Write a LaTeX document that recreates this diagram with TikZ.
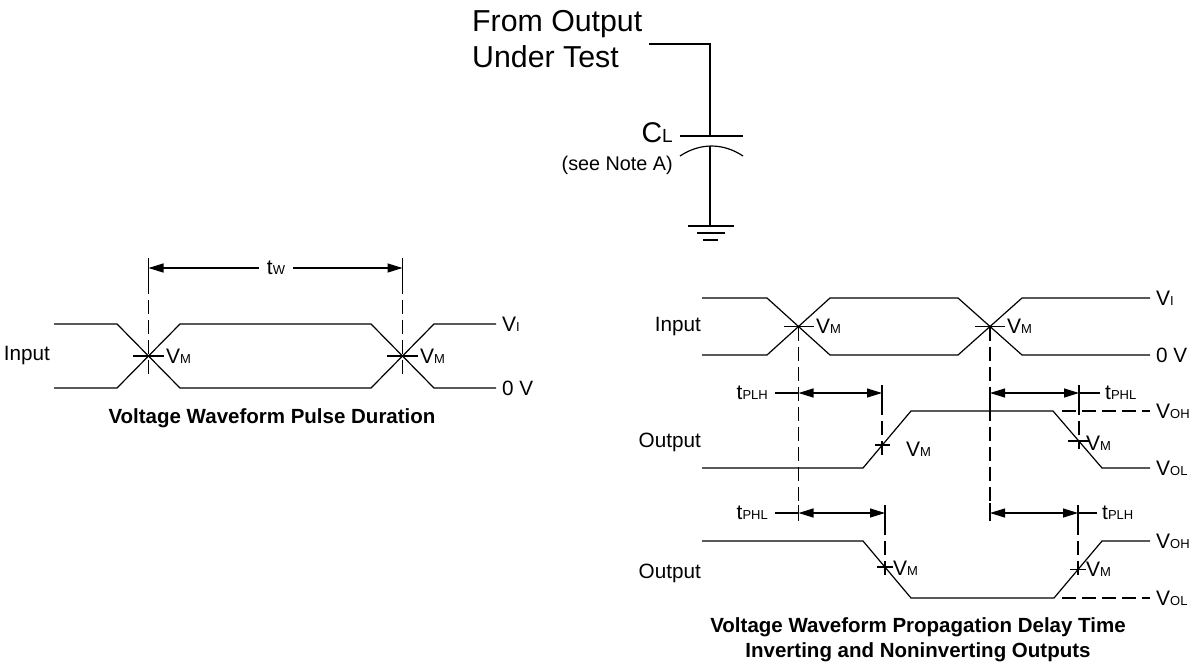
\documentclass[tikz,border=0pt]{standalone}
\usepackage{fontspec}
\setmainfont{Liberation Sans}
\usetikzlibrary{arrows.meta}
\newcommand\fs[1]{\fontsize{#1}{#1}\selectfont}
\newcommand\sbx[2]{#1{\fs{13}#2}}
\begin{document}
\begin{tikzpicture}[x=1pt,y=-1pt,
  wire/.style={line width=1.2pt},
  dsh/.style={line width=1.2pt,dash pattern=on 14pt off 6pt},
  dim/.style={line width=1.2pt,{Triangle[length=15pt,width=9pt]}-{Triangle[length=15pt,width=9pt]}},
  lab/.style={inner sep=0pt,font=\fs{20.7}},
  sub/.style={inner sep=0pt,font=\fs{21}},
  ttl/.style={inner sep=0pt,font=\fontsize{20.5}{25}\selectfont\bfseries,align=center}]
\useasboundingbox (0,0) rectangle (1196,667);
% ---------------- test circuit ----------------
\node[inner sep=0pt,anchor=base west,font=\fs{30.3}] (from) at (472,31) {From Output};
\node[inner sep=0pt,anchor=base west,font=\fs{30.3}] (under) at (472,67) {Under Test};
\coordinate (w0) at (649,44);
\coordinate (w1) at (710,44);
\coordinate (ptop) at (710,136);
\coordinate (pbot) at (710,146);
\coordinate (gnd) at (710,226);
\draw[wire] (w0) -- (w1) -- (ptop);
\draw[wire] (680,136) -- (743,136);
\draw[wire] (680,156) .. controls (700,142.7) and (723,142.7) .. (743,156);
\draw[wire] (pbot) -- (gnd);
\draw[wire] (688,226) -- (734,226);
\draw[wire] (697,233) -- (725,233);
\draw[wire] (703,240) -- (718,240);
\node[inner sep=0pt,anchor=base east] (cl) at (673,142) {\fs{28.5}C{\fs{19}L}};
\node[inner sep=0pt,anchor=east,font=\fs{19.8}] (note) at (673,165) {(see Note A)};
% ---------------- pulse duration ----------------
\draw[wire] (54,324) -- (117,324) -- (180,388) -- (371,388) -- (434,324) -- (496,324);
\draw[wire] (54,388) -- (117,388) -- (180,324) -- (371,324) -- (434,388) -- (496,388);
\draw[wire] (133,356) -- (164,356);
\draw[wire] (387,356) -- (418,356);
\draw[wire] (148.5,258) -- (148.5,280);
\draw[wire] (402.5,258) -- (402.5,280);
\draw[dsh] (148.5,280) -- (148.5,374);
\draw[dsh] (402.5,280) -- (402.5,374);
\coordinate (ta) at (148.5,268);
\coordinate (tb) at (402.5,268);
\draw[dim] (ta) -- (tb);
\node[sub,fill=white,inner xsep=8pt,inner ysep=2pt] (tw) at (276,268) {\sbx{t}{W}};
\node[sub,anchor=west] (vm1) at (166,356) {\sbx{V}{M}};
\node[sub,anchor=west] (vm2) at (420,356) {\sbx{V}{M}};
\node[sub,anchor=west] (vi1) at (502,324) {\sbx{V}{I}};
\node[lab,anchor=west] (ov1) at (502,388) {0 V};
\node[lab,anchor=east] (in1) at (50,356) {Input};
\node[ttl] (t1) at (272,418) {Voltage Waveform Pulse Duration};
% ---------------- propagation delay: input ----------------
\draw[wire] (702,298) -- (767,298) -- (830,355) -- (958,355) -- (1022,298) -- (1150,298);
\draw[wire] (702,355) -- (767,355) -- (830,298) -- (958,298) -- (1022,355) -- (1150,355);
\draw[wire] (784,326.5) -- (814,326.5);
\draw[wire] (975,326.5) -- (1005,326.5);
\node[sub,anchor=west] (vm3) at (816,326.5) {\sbx{V}{M}};
\node[sub,anchor=west] (vm4) at (1007,326.5) {\sbx{V}{M}};
\node[sub,anchor=west] (vi2) at (1156,298) {\sbx{V}{I}};
\node[lab,anchor=west] (ov2) at (1156,355) {0 V};
\node[lab,anchor=east] (in2) at (701,326.5) {Input};
\draw[dsh] (798.5,326.5) -- (798.5,520);
\draw[dsh] (990,326.5) -- (990,505);
% ---------------- output 1 (non-inverting) ----------------
\draw[wire] (702,468) -- (863,468) -- (911,411) -- (1053,411) -- (1102,468) -- (1150,468);
\draw[dsh] (1062,411) -- (1150,411);
\node[sub,anchor=west] (voh1) at (1156,411) {\sbx{V}{OH}};
\node[sub,anchor=west] (vol1) at (1156,468) {\sbx{V}{OL}};
\node[lab,anchor=east] (out1) at (701,442) {Output};
% tPLH
\draw[dim] (798.5,393) -- (882,393);
\draw[wire] (775,393) -- (798.5,393);
\node[sub,anchor=east] (tplh1) at (768,393) {\sbx{t}{PLH}};
\draw[wire] (882,385) -- (882,401);
\draw[dsh] (882,401) -- (882,456);
\draw[wire] (875,445) -- (890,445);
\node[sub,anchor=west] (vm5) at (906,449) {\sbx{V}{M}};
% tPHL
\draw[wire] (990,393) -- (990,411);
\draw[dim] (990,393) -- (1079,393);
\draw[wire] (1079,393) -- (1100,393);
\node[sub,anchor=west] (tphl1) at (1105,393) {\sbx{t}{PHL}};
\draw[wire] (1079,385) -- (1079,401);
\draw[dsh] (1079,401) -- (1079,449);
\draw[wire] (1068,441) -- (1090,441);
\node[sub,anchor=west] (vm6) at (1086,443) {\sbx{V}{M}};
% ---------------- output 2 (inverting) ----------------
\draw[wire] (702,541) -- (863,541) -- (911,598) -- (1054,598) -- (1102,541) -- (1150,541);
\draw[dsh] (1062,598) -- (1150,598);
\node[sub,anchor=west] (voh2) at (1156,541) {\sbx{V}{OH}};
\node[sub,anchor=west] (vol2) at (1156,598) {\sbx{V}{OL}};
\node[lab,anchor=east] (out2) at (701,573) {Output};
% tPHL
\draw[wire] (798.5,505) -- (798.5,521);
\draw[dim] (798.5,513) -- (885,513);
\draw[wire] (775,513) -- (798.5,513);
\node[sub,anchor=east] (tphl2) at (768,513) {\sbx{t}{PHL}};
\draw[wire] (885,505) -- (885,521);
\draw[dsh] (885,521) -- (885,580);
\draw[wire] (877,567) -- (893,567);
\node[sub,anchor=west] (vm7) at (893,568) {\sbx{V}{M}};
% tPLH
\draw[wire] (990,503) -- (990,521);
\draw[dim] (990,513) -- (1078,513);
\draw[wire] (1078,513) -- (1097,513);
\node[sub,anchor=west] (tplh2) at (1102,513) {\sbx{t}{PLH}};
\draw[wire] (1078,505) -- (1078,521);
\draw[dsh] (1078,521) -- (1078,578);
\draw[wire] (1070,569.5) -- (1086,569.5);
\node[sub,anchor=west] (vm8) at (1086,569.5) {\sbx{V}{M}};
\node[ttl] (t2) at (918,639.5) {Voltage Waveform Propagation Delay Time\\Inverting and Noninverting Outputs};
\end{tikzpicture}
\end{document}
